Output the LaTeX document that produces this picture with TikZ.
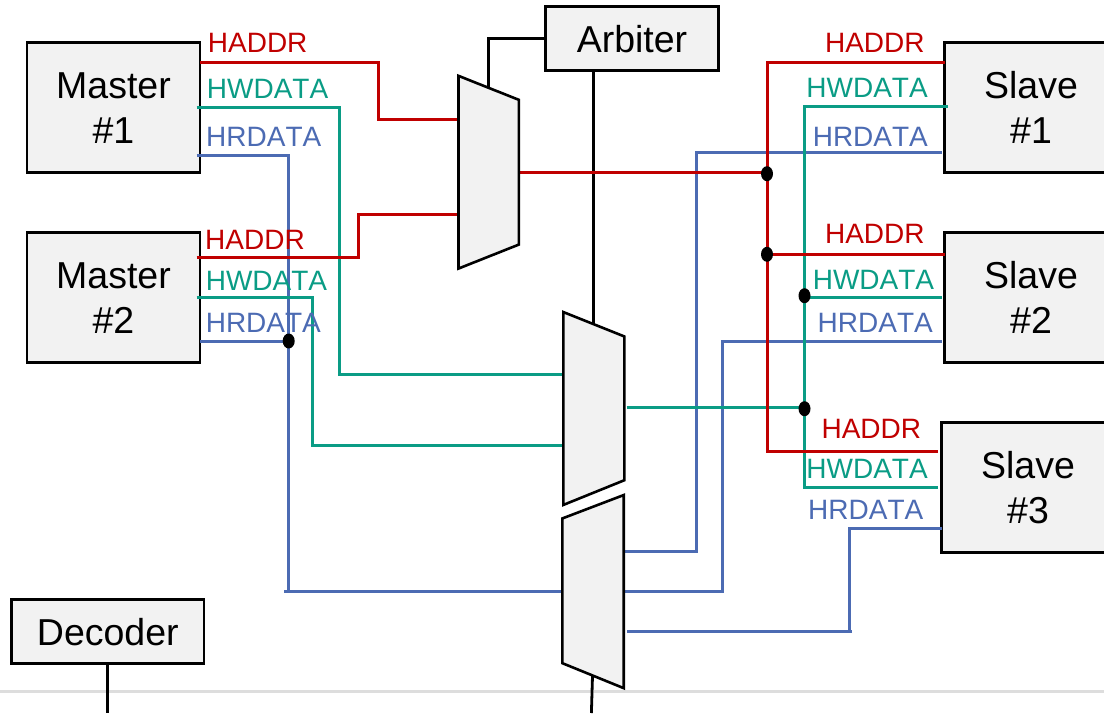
\documentclass[tikz,border=0pt]{standalone}
\usepackage{fontspec}
\setmainfont{Liberation Sans}
\newfontfamily\sigfont[Kerning=Off]{Liberation Sans}
\definecolor{addrc}{HTML}{C00000}
\definecolor{wdatac}{HTML}{0A9C85}
\definecolor{rdatac}{HTML}{4C6BB3}
\definecolor{boxfill}{HTML}{F2F2F2}
\definecolor{rulec}{HTML}{DDDDDD}
\newcommand\liftA{\rule{0pt}{27.5pt}}
\newcommand\liftB{\rule{0pt}{28pt}}
\tikzset{
  block/.style={draw=black,fill=boxfill,line width=2.6pt,inner sep=0pt,align=center,font=\fontsize{37.5}{45}\selectfont},
  muxbox/.style={inner sep=0pt,minimum width=#1},
  muxshape/.style={draw=black,fill=boxfill,line width=2.6pt,line join=miter},
  ctrl/.style={draw=black,line width=2.8pt},
  addr/.style={draw=addrc,line width=3pt},
  wdata/.style={draw=wdatac,line width=3pt},
  rdata/.style={draw=rdatac,line width=3pt},
  sig/.style={anchor=west,inner sep=0pt,font=\sigfont\fontsize{28}{30}\selectfont},
  addrl/.style={sig,text=addrc},
  wdatal/.style={sig,text=wdatac},
  rdatal/.style={sig,text=rdatac},
  junction/.style={fill=black,draw=none,ellipse,minimum width=12pt,minimum height=15pt,inner sep=0pt}
}
\usetikzlibrary{shapes.geometric}
\begin{document}
\begin{tikzpicture}[x=1pt,y=-1pt]
\clip (0,0) rectangle (1104,713);
\useasboundingbox (0,0) rectangle (1104,713);

% separator
\coordinate (ruleL) at (0,691.7);
\coordinate (ruleR) at (1104,691.7);
\draw[rulec,line width=2.8pt] (ruleL) -- (ruleR);

% blocks
\node[block,minimum width=173pt,minimum height=130pt] (m1) at (113.5,107.5) {\liftA Master\\\#1};
\node[block,minimum width=173pt,minimum height=130pt] (m2) at (113.5,297.3) {\liftA Master\\\#2};
\node[block,minimum width=173pt,minimum height=130pt] (s1) at (1031,107.5) {\liftA Slave\\\#1};
\node[block,minimum width=173pt,minimum height=130pt] (s2) at (1031,297.3) {\liftA Slave\\\#2};
\node[block,minimum width=173pt,minimum height=130pt] (s3) at (1028,487.3) {\liftA Slave\\\#3};
\node[block,minimum width=173pt,minimum height=64pt] (arb) at (632,38.3) {\liftB Arbiter};
\node[block,minimum width=192.4pt,minimum height=64.4pt] (dec) at (107.8,631.5) {\liftB Decoder};

% multiplexer frames (outline drawn below)
\node[muxbox=60pt,minimum height=192.3pt] (mux1) at (488.7,172.2) {};
\node[muxbox=60.6pt,minimum height=192.4pt] (mux2) at (593.9,408.5) {};
\node[muxbox=61pt,minimum height=192.7pt] (mux3) at (593,591.6) {};

% free ends
\coordinate (decEnd) at (107.8,713);
\coordinate (mux3out) at (592.5,676);
\coordinate (mux3End) at (591.4,713);
\coordinate (a1) at (378,119);
\coordinate (a2) at (358,214);
\coordinate (w1) at (339.8,374);
\coordinate (w2) at (312.3,445.7);
\coordinate (r1) at (288.7,591.3);
\coordinate (rs1) at (696.7,551.3);
\coordinate (rs2) at (722.4,591.3);
\coordinate (rs3) at (849.9,631);

% control
\draw[ctrl] (arb.west) -| (488.7,88);
\draw[ctrl] (593.5,70) -- (593.5,323);
\draw[ctrl] (dec.south) -- (decEnd);
\draw[ctrl] (mux3out) -- (mux3End);

% HRDATA
\draw[rdata] (196.5,155.7) -| (r1) (284,591.3) -- (r1 -| mux3.west);
\draw[rdata] (200,341) -- (288.7,341);
\draw[rdata] (941.8,152.3) -| (rs1) -- (623.5,551.3);
\draw[rdata] (941.8,341) -| (rs2) -- (623.5,591.3);
\draw[rdata] (942,528.7) -| (rs3) (852,631) -- (626.6,631);

% HWDATA
\draw[wdata] (196.5,107.3) -| (w1) -- (w1 -| mux2.west);
\draw[wdata] (196.5,297.3) -| (w2) -- (w2 -| mux2.west);
\draw[wdata] (947.8,106) -| (804.5,487.3) -- (938.3,487.3);
\draw[wdata] (804.5,297.3) -- (941.8,297.3);
\draw[wdata] (626.6,407) -- (804.5,407);

% HADDR
\draw[addr] (200,62.3) -| (a1) -- (a1 -| mux1.west);
\draw[addr] (196.5,257.3) -| (a2) -- (a2 -| mux1.west);
\draw[addr] (518.7,172.3) -- (767,172.3);
\draw[addr] (944.6,62.3) -| (767,451.3) -- (938.3,451.3);
\draw[addr] (767,254) -- (944.6,254);

% multiplexers
\draw[muxshape] (mux1.north west) -- ([yshift=-24pt]mux1.north east) -- ([yshift=24pt]mux1.south east) -- (mux1.south west) -- cycle;
\draw[muxshape] (mux2.north west) -- ([yshift=-24.4pt]mux2.north east) -- ([yshift=24.7pt]mux2.south east) -- (mux2.south west) -- cycle;
\draw[muxshape] ([yshift=-23.4pt]mux3.north west) -- (mux3.north east) -- (mux3.south east) -- ([yshift=25pt]mux3.south west) -- cycle;

% junctions
\node[junction] (j1) at (288.7,341) {};
\node[junction] (j2) at (767,173.7) {};
\node[junction] (j3) at (767,254.3) {};
\node[junction] (j4) at (804.5,295.7) {};
\node[junction] (j5) at (804.5,408.7) {};

% labels
\node[addrl] (l1) at (207.7,43.3) {HADDR};
\node[wdatal] (l2) at (206.7,88.7) {HWDATA};
\node[rdatal] (l3) at (206,136.7) {HRDATA};
\node[addrl] (l4) at (205,240) {HADDR};
\node[wdatal] (l5) at (205.6,280.7) {HWDATA};
\node[rdatal] (l6) at (205.6,322.7) {HRDATA};
\node[addrl] (l7) at (824.9,43.3) {HADDR};
\node[wdatal] (l8) at (806.2,88) {HWDATA};
\node[rdatal] (l9) at (812.6,136.7) {HRDATA};
\node[addrl] (l10) at (824.9,234) {HADDR};
\node[wdatal] (l11) at (812.6,280) {HWDATA};
\node[rdatal] (l12) at (817.5,322.7) {HRDATA};
\node[addrl] (l13) at (821.4,429) {HADDR};
\node[wdatal] (l14) at (806.2,469) {HWDATA};
\node[rdatal] (l15) at (808,509.7) {HRDATA};
\end{tikzpicture}
\end{document}
